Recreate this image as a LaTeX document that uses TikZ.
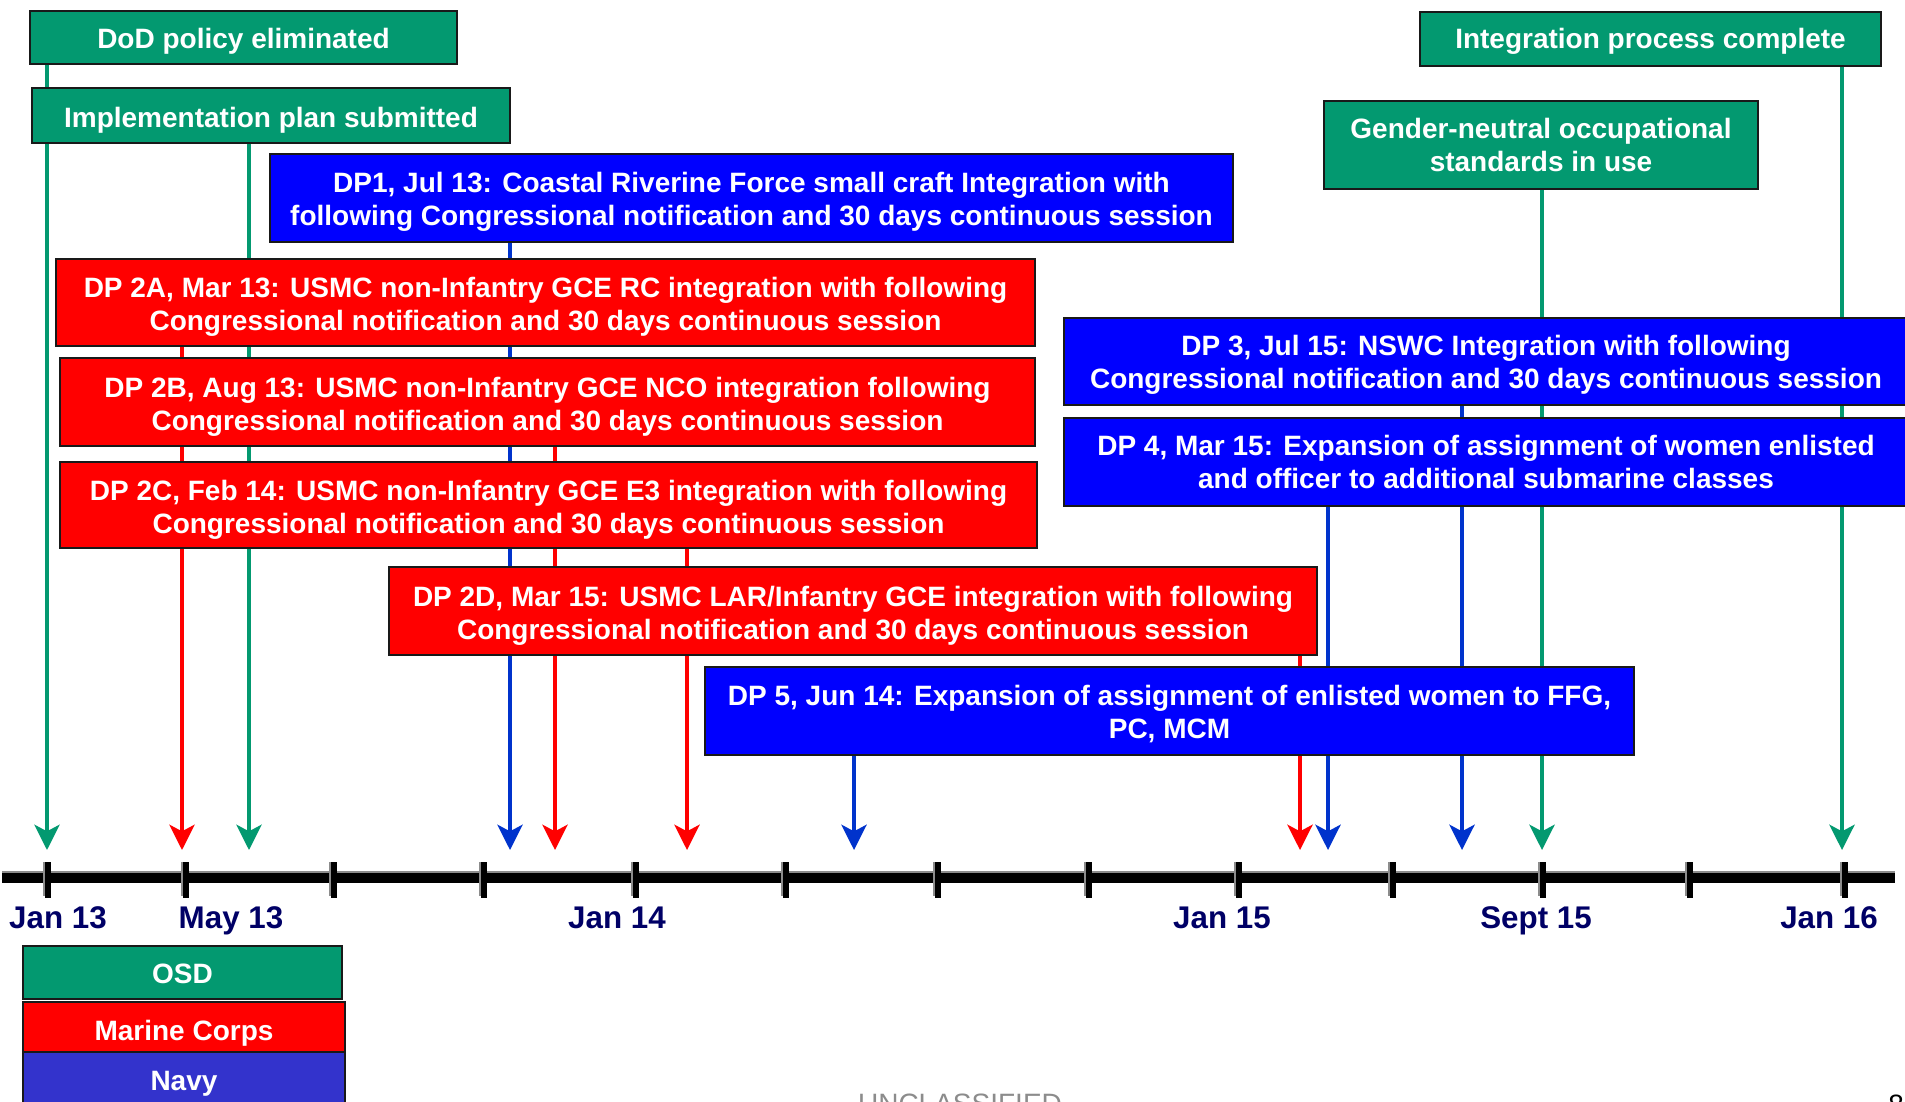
\documentclass[tikz,border=0pt]{standalone}
\usepackage{fontspec}
\setmainfont{Liberation Sans}
\usetikzlibrary{arrows.meta}
\definecolor{osdgreen}{RGB}{3,153,112}
\definecolor{mcred}{RGB}{255,0,0}
\definecolor{navyfill}{RGB}{0,0,255}
\definecolor{linkblue}{RGB}{0,51,204}
\definecolor{legnavy}{RGB}{51,51,204}
\definecolor{datenavy}{RGB}{0,0,102}
\newcommand\boxlift[1]{\rule{0pt}{#1}}
\pgfdeclarelayer{bg}
\pgfsetlayers{bg,main}
\begin{document}
\begin{tikzpicture}[x=0.75pt,y=-0.75pt,
  box/.style={draw=black!90, line width=1.5pt, text=white,
    font=\bfseries\fontsize{21}{24.75}\selectfont, align=center, inner sep=0pt},
  wh/.style 2 args={minimum width=#1*0.75pt, minimum height=#2*0.75pt},
  gbox/.style={box, fill=osdgreen},
  rbox/.style={box, fill=mcred},
  bbox/.style={box, fill=navyfill},
  link/.style={line width=2.6pt, -{Stealth[length=19pt,width=19pt,inset=5pt]}},
  glink/.style={link, draw=osdgreen, color=osdgreen},
  rlink/.style={link, draw=mcred, color=mcred},
  blink/.style={link, draw=linkblue, color=linkblue},
  datelbl/.style={anchor=base, text=datenavy, font=\bfseries\fontsize{23.5}{28}\selectfont, inner sep=0pt},
]
\useasboundingbox (0,0) rectangle (1905,1102);

% ---- boxes ----
\node[gbox, wh={427}{53}] (dod) at (243.5,37.5) {\boxlift{20.7pt}DoD policy eliminated};
\node[gbox, wh={478}{55}] (impl) at (271,115.5) {\boxlift{22.5pt}Implementation plan submitted};
\node[gbox, wh={461}{54}] (integ) at (1650.5,39) {\boxlift{18.9pt}Integration process complete};
\node[gbox, wh={434}{88}] (gender) at (1541,145) {Gender-neutral occupational\\standards in use};

\node[bbox, wh={963}{88}] (dp1) at (751.5,198) {\boxlift{20.7pt}DP1, Jul 13: Coastal Riverine Force small craft Integration with\\following Congressional notification and 30 days continuous session};
\node[rbox, wh={979}{87}] (dp2a) at (545.5,302.5) {\boxlift{21.7pt}DP 2A, Mar 13: USMC non-Infantry GCE RC integration with following\\Congressional notification and 30 days continuous session};
\node[rbox, wh={975}{88}] (dp2b) at (547.5,402) {\boxlift{22.5pt}DP 2B, Aug 13: USMC non-Infantry GCE NCO integration following\\Congressional notification and 30 days continuous session};
\node[rbox, wh={977}{86}] (dp2c) at (548.5,505) {\boxlift{22.5pt}DP 2C, Feb 14: USMC non-Infantry GCE E3 integration with following\\Congressional notification and 30 days continuous session};
\node[rbox, wh={928}{88}] (dp2d) at (853,611) {\boxlift{21.7pt}DP 2D, Mar 15: USMC LAR/Infantry GCE integration with following\\Congressional notification and 30 days continuous session};
\node[bbox, wh={844}{87}] (dp3) at (1486,361.5) {\boxlift{19.9pt}DP 3, Jul 15: NSWC Integration with following\\Congressional notification and 30 days continuous session};
\node[bbox, wh={844}{88}] (dp4) at (1486,462) {DP 4, Mar 15: Expansion of assignment of women enlisted\\and officer to additional submarine classes};
\node[bbox, wh={929}{88}] (dp5) at (1169.5,711) {\boxlift{19.9pt}DP 5, Jun 14: Expansion of assignment of enlisted women to FFG,\\PC, MCM};

% ---- legend ----
\node[gbox, wh={319}{53}] (osd) at (182.5,972.5) {\boxlift{16.8pt}OSD};
\node[rbox, wh={322}{50}] (mc) at (184,1027) {\boxlift{24.3pt}Marine Corps};
\node[box, fill=legnavy, wh={322}{56}] (navy) at (184,1080) {\boxlift{20.4pt}Navy};

% ---- arrow tips ----
\foreach \n/\x in {g1/47, r1/182, g2/249, b1/510, r2/555, r3/687, b2/854, r4/1300, b3/1328, b4/1462, g3/1542, g4/1842}
  \coordinate (\n) at (\x,850);

\begin{pgfonlayer}{bg}
  \draw[glink] (dod.south -| g1) -- (g1);
  \draw[rlink] (dp2a.south -| r1) -- (r1);
  \draw[glink] (impl.south -| g2) -- (g2);
  \draw[blink] (dp1.south -| b1) -- (b1);
  \draw[rlink] (dp2b.south -| r2) -- (r2);
  \draw[rlink] (dp2c.south -| r3) -- (r3);
  \draw[blink] (dp5.south -| b2) -- (b2);
  \draw[rlink] (dp2d.south -| r4) -- (r4);
  \draw[blink] (dp4.south -| b3) -- (b3);
  \draw[blink] (dp3.south -| b4) -- (b4);
  \draw[glink] (gender.south -| g3) -- (g3);
  \draw[glink] (integ.south -| g4) -- (g4);
\end{pgfonlayer}

% ---- timeline ----
\draw[line width=7pt, black] (2,878) -- (1895,878);
\draw[line width=1.5pt, black!45] (2,872) -- (1895,872);
\foreach \x in {47,185,333,483,635,785,937,1088,1238,1392,1542,1689,1844} {
  \draw[line width=4.5pt, black] (\x+1,862) -- (\x+1,898);
  \draw[line width=1.5pt, black!45] (\x-3,862) -- (\x-3,896);
}

% ---- date labels ----
\node[datelbl] (jan13) at (58,928) {Jan 13};
\node[datelbl] (may13) at (231,928) {May 13};
\node[datelbl] (jan14) at (617,928) {Jan 14};
\node[datelbl] (jan15) at (1222,928) {Jan 15};
\node[datelbl] (sep15) at (1536,928) {Sept 15};
\node[datelbl] (jan16) at (1829,928) {Jan 16};

% ---- footer (cut off at bottom, as in the original) ----
\node[anchor=base, inner sep=0pt, text=black!45, font=\fontsize{21}{24}\selectfont] (uncl) at (960,1113) {UNCLASSIFIED};
\node[anchor=base west, inner sep=0pt, text=black, font=\fontsize{21}{24}\selectfont] (pnum) at (1888,1114) {8};
\end{tikzpicture}
\end{document}
